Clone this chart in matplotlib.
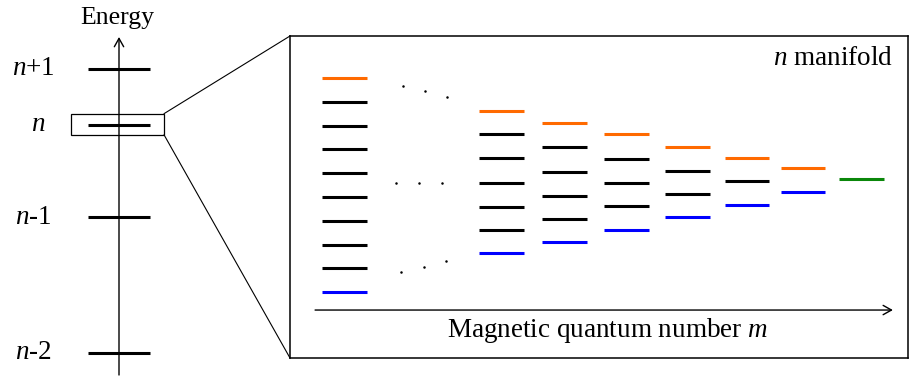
import matplotlib
matplotlib.use('Agg')
import matplotlib.pyplot as plt
from matplotlib.patches import Rectangle, ConnectionPatch

plt.rcParams['font.family'] = 'Liberation Serif'
plt.rcParams['mathtext.fontset'] = 'custom'
plt.rcParams['mathtext.rm'] = 'Liberation Serif'
plt.rcParams['mathtext.it'] = 'Liberation Serif:italic'

# principal shells (arbitrary energy units)
shell_labels = ['$n$+1', '$n$', '$n$-1', '$n$-2']
shell_energy = [2.09, 1.68, 1.00, 0.00]

# sublevels of the n manifold, one list per m column (units of level spacing)
manifold_levels = [
    [4.37, 3.37, 2.37, 1.37, 0.37, -0.63, -1.63, -2.63, -3.63, -4.63],
    [2.98, 2.00, 1.01, -0.03, -1.04, -2.02, -3.00],
    [2.48, 1.47, 0.43, -0.58, -1.54, -2.53],
    [2.00, 0.98, -0.05, -1.01, -2.02],
    [1.47, 0.47, -0.49, -1.47],
    [1.01, 0.04, -0.95],
    [0.58, -0.43],
    [0.11],
]

# layout
col_x = [0, 2.62, 3.67, 4.70, 5.72, 6.71, 7.64, 8.62]
half_w = 0.37
c_top = '#ff6a00'
c_bot = '#0000ff'
c_mid = 'black'
c_single = '#0a870a'
fs = 19.5

fig = plt.figure(figsize=(9.1, 3.78), dpi=100)

# ---- left: energy ladder ----
ax_e = fig.add_axes([0, 0, 290 / 910, 1])
ax_e.set_xlim(0, 290)
ax_e.set_ylim(-0.184, 2.596)
ax_e.axis('off')

ax_e.annotate('', xy=(119, 2.324), xytext=(119, -0.162),
              arrowprops=dict(arrowstyle='->,head_length=0.5,head_width=0.28',
                              lw=1.0, color='black', shrinkA=0, shrinkB=0,
                              mutation_scale=12))
ax_e.text(117, 2.46, 'Energy', ha='center', va='center', fontsize=18.5)

for lab, e in zip(shell_labels, shell_energy):
    ax_e.plot([88, 150], [e, e], color='black', lw=2.2, solid_capstyle='butt')
    ax_e.text(33 if lab != '$n$' else 38, e, lab, ha='center', va='center',
              fontsize=fs)

n_e = shell_energy[1]
zoom_box = Rectangle((71, n_e - 0.075), 93, 0.155, fill=False, lw=0.9,
                     edgecolor='black')
ax_e.add_patch(zoom_box)

# ---- right: n manifold vs m ----
ax_m = fig.add_axes([290 / 910, 20 / 378, 618 / 910, 322 / 378])
ax_m.set_xlim(-0.908, 9.392)
ax_m.set_ylim(-7.395, 6.134)
ax_m.set_xticks([])
ax_m.set_yticks([])
for sp in ax_m.spines.values():
    sp.set_linewidth(1.1)

for x, levels in zip(col_x, manifold_levels):
    for i, e in enumerate(levels):
        if len(levels) == 1:
            c = c_single
        elif i == 0:
            c = c_top
        elif i == len(levels) - 1:
            c = c_bot
        else:
            c = c_mid
        ax_m.plot([x - half_w, x + half_w], [e, e], color=c, lw=2.2,
                  solid_capstyle='butt')

# ellipsis dots between first and second column
for cx, cy, slope, step in [(1.337, 3.81, -0.625, 0.37),
                            (1.247, -0.03, 0.0, 0.383),
                            (1.32, -3.57, 0.625, 0.37)]:
    dx = [-step, 0, step]
    ax_m.plot([cx + d for d in dx], [cy + slope * d for d in dx], 'o',
              color='black', ms=1.8, mec='none')

ax_m.annotate('', xy=(9.14, -5.38), xytext=(-0.49, -5.38),
              arrowprops=dict(arrowstyle='->,head_length=0.5,head_width=0.28',
                              lw=1.0, color='black', shrinkA=0, shrinkB=0,
                              mutation_scale=12))
ax_m.text(4.38, -6.25, 'Magnetic quantum number $m$', ha='center',
          va='center', fontsize=fs)
ax_m.text(9.14, 5.17, '$n$ manifold', ha='right', va='center', fontsize=fs)

# zoom lines from the n level box to the manifold panel
for yy, fy in [(n_e + 0.08, 1), (n_e - 0.075, 0)]:
    con = ConnectionPatch(xyA=(164, yy), coordsA=ax_e.transData,
                          xyB=(0, fy), coordsB=ax_m.transAxes,
                          color='black', lw=0.8)
    fig.add_artist(con)

fig.savefig('out.png', dpi=100)
